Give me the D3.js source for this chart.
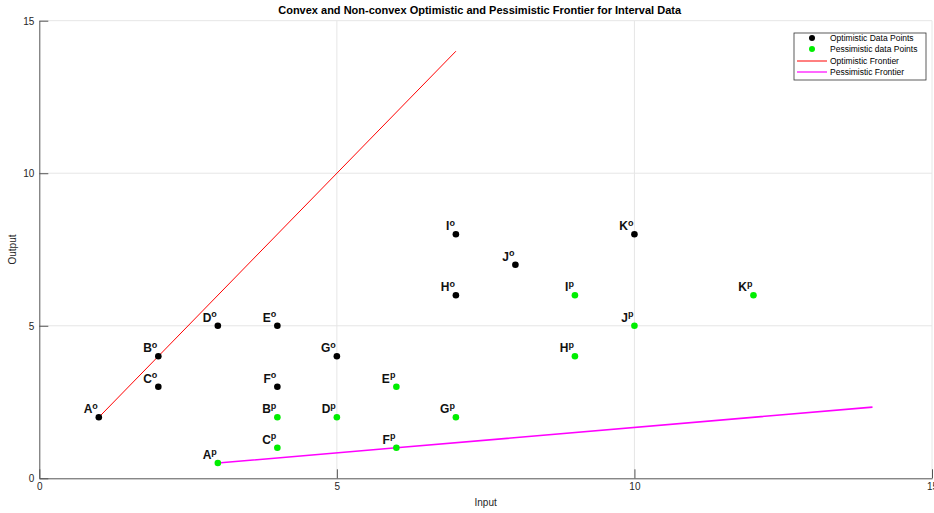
<!DOCTYPE html>
<html><head><meta charset="utf-8">
<script src="https://cdn.jsdelivr.net/npm/d3@7"></script>
<style>body{margin:0;background:#fff;} svg{display:block;font-family:"Liberation Sans",Arial,Helvetica,sans-serif;}</style>
</head><body>
<svg id="c" width="934" height="513"></svg>
<script>
// Data
const optLabels = ["A","B","C","D","E","F","G","H","I","J","K"];
const optX = [1,2,2,3,4,4,5,7,7,8,10];
const optY = [2,4,3,5,5,3,4,6,8,7,8];
const pesLabels = ["A","B","C","D","E","F","G","H","I","J","K"];
const pesX = [3,4,4,5,6,6,7,9,9,10,12];
const pesY = [0.5,2,1,2,3,1,2,4,6,5,6];
const optFrontierX = [1,2,7];
const optFrontierY = [2,4,14];
const pesFrontierX = [3,6,14];
const pesFrontierY = [0.5,1,2.3333];
const xTicks = [0,5,10,15];
const yTicks = [0,5,10,15];
const legendLabels = ["Optimistic Data Points","Pessimistic data Points","Optimistic Frontier","Pessimistic Frontier"];
const titleText = "Convex and Non-convex Optimistic and Pessimistic Frontier for Interval Data";

const svg = d3.select("#c");
const L = 39.3, R = 932, T = 20.7, B = 478.3;
const x = d3.scaleLinear().domain([0,15]).range([L,R]);
const y = d3.scaleLinear().domain([0,15]).range([B,T]);
const axisCol = "#555555";

// grid
const g = svg.append("g");
g.selectAll(".gx").data(xTicks.filter(d=>d>0)).join("line")
  .attr("x1",d=>x(d)).attr("x2",d=>x(d)).attr("y1",T).attr("y2",B)
  .attr("stroke","#e6e6e6").attr("stroke-width",1);
g.selectAll(".gy").data(yTicks.filter(d=>d>0)).join("line")
  .attr("y1",d=>y(d)).attr("y2",d=>y(d)).attr("x1",L).attr("x2",R)
  .attr("stroke","#e6e6e6").attr("stroke-width",1);

// axes
const xAxis = d3.axisBottom(x).tickValues(xTicks).tickSizeInner(-9).tickSizeOuter(0).tickPadding(5);
const yAxis = d3.axisLeft(y).tickValues(yTicks).tickSizeInner(-9).tickSizeOuter(0).tickPadding(5);
const gx = svg.append("g").attr("transform",`translate(0,${B})`).call(xAxis);
const gy = svg.append("g").attr("transform",`translate(${L},0)`).call(yAxis);
[gx,gy].forEach(a=>{
  a.select(".domain").attr("stroke",axisCol);
  a.selectAll(".tick line").attr("stroke",axisCol);
  a.selectAll(".tick text").attr("fill","#262626").attr("font-size",10).attr("font-family","Liberation Sans, Arial, sans-serif");
});
gy.selectAll(".tick text").attr("dy","0.35em");

// frontiers
const line = d3.line().x(d=>x(d[0])).y(d=>y(d[1]));
svg.append("path").datum(optFrontierX.map((v,i)=>[v,optFrontierY[i]]))
  .attr("d",line).attr("fill","none").attr("stroke","#ff0000").attr("stroke-width",1);
svg.append("path").datum(pesFrontierX.map((v,i)=>[v,pesFrontierY[i]]))
  .attr("d",line).attr("fill","none").attr("stroke","#ff00ff").attr("stroke-width",1.6);

// points
function drawPts(xs, ys, labs, col, sup){
  const data = xs.map((v,i)=>({x:v,y:ys[i],l:labs[i]}));
  svg.append("g").selectAll("circle").data(data).join("circle")
    .attr("cx",d=>x(d.x)).attr("cy",d=>y(d.y)).attr("r",3.3).attr("fill",col);
  const t = svg.append("g").selectAll("text").data(data).join("text")
    .attr("x",d=>x(d.x)-1).attr("y",d=>y(d.y)-4)
    .attr("text-anchor","end").attr("font-weight","bold").attr("font-size",12).attr("fill","#111");
  t.append("tspan").text(d=>d.l);
  t.append("tspan").attr("font-size",9).attr("dy",-4.5).text(sup);
}
drawPts(optX,optY,optLabels,"#000000","o");
drawPts(pesX,pesY,pesLabels,"#00ee00","p");

// title & labels
svg.append("text").attr("x",(L+R)/2-6).attr("y",14).attr("text-anchor","middle")
  .attr("font-weight","bold").attr("font-size",11).attr("fill","#000").text(titleText);
svg.append("text").attr("x",(L+R)/2).attr("y",506).attr("text-anchor","middle")
  .attr("font-size",10).attr("fill","#262626").text("Input");
svg.append("text").attr("transform",`translate(16,${(T+B)/2}) rotate(-90)`).attr("text-anchor","middle")
  .attr("font-size",10).attr("fill","#262626").text("Output");

// legend
const lg = svg.append("g");
lg.append("rect").attr("x",794).attr("y",33).attr("width",132).attr("height",47)
  .attr("fill","#fff").attr("stroke","#333").attr("stroke-width",0.8);
const ly = [38,49,61,72];
lg.append("circle").attr("cx",812).attr("cy",ly[0]).attr("r",3).attr("fill","#000");
lg.append("circle").attr("cx",812).attr("cy",ly[1]).attr("r",3).attr("fill","#00ee00");
lg.append("line").attr("x1",797).attr("x2",827).attr("y1",ly[2]).attr("y2",ly[2]).attr("stroke","#ff0000").attr("stroke-width",1);
lg.append("line").attr("x1",797).attr("x2",827).attr("y1",ly[3]).attr("y2",ly[3]).attr("stroke","#ff00ff").attr("stroke-width",1.2);
lg.selectAll("text").data(legendLabels).join("text")
  .attr("x",830).attr("y",(d,i)=>ly[i]).attr("dy","0.35em")
  .attr("font-size",8.5).attr("fill","#000").text(d=>d);
</script>
</body></html>
